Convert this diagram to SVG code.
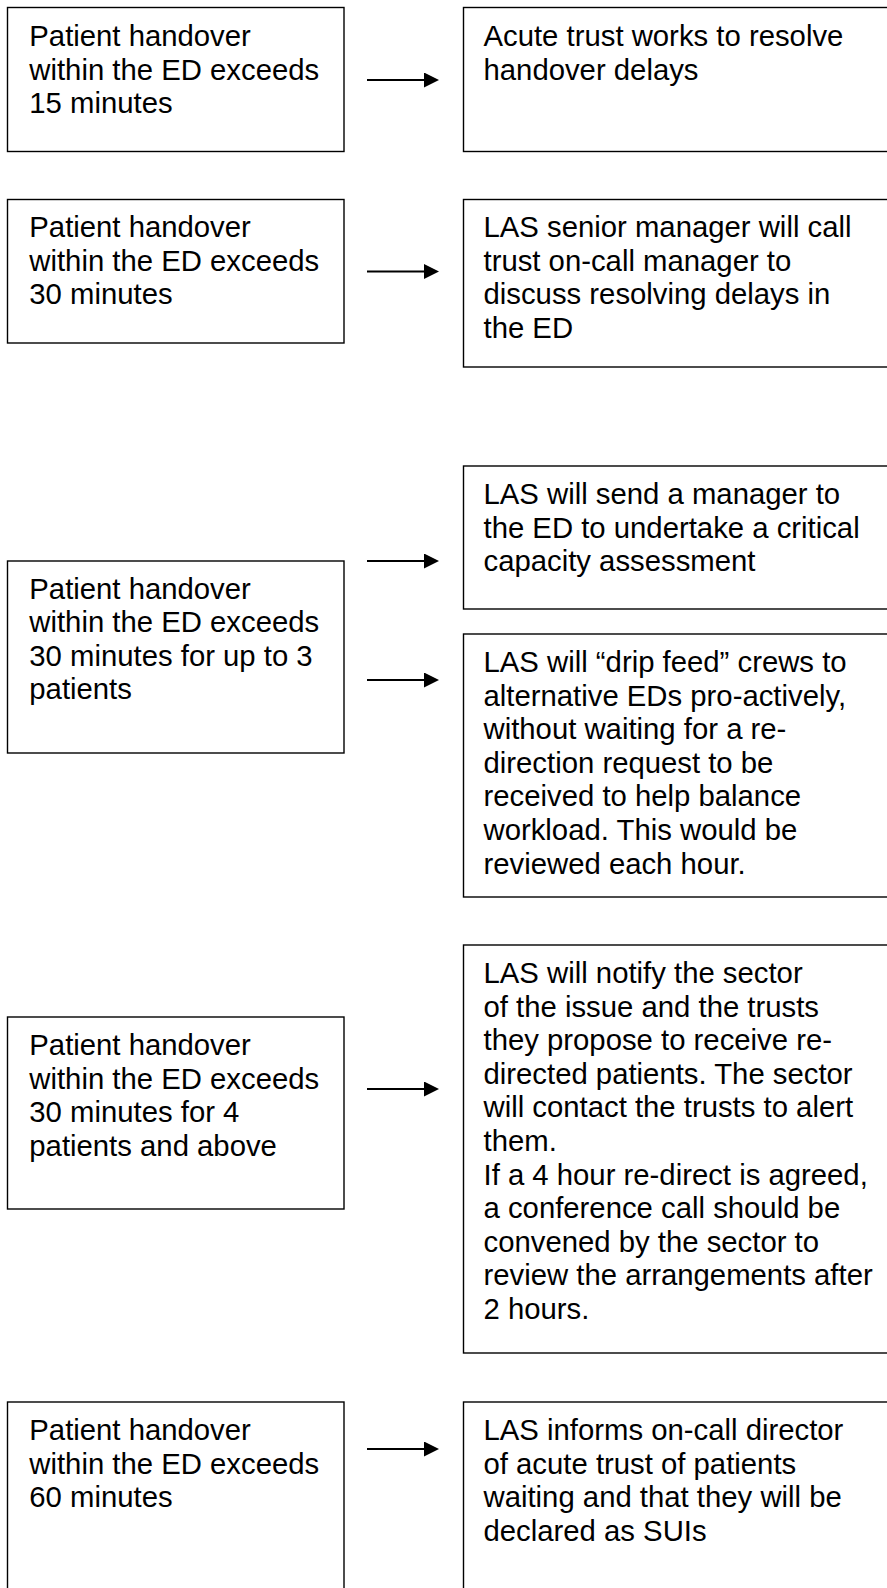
<svg xmlns="http://www.w3.org/2000/svg" width="887" height="1588" viewBox="0 0 887 1588">
<style>
.box{fill:#fff;stroke:#000;stroke-width:1.4}
.t{font-family:"Liberation Sans",Arial,sans-serif;font-size:29.3px;fill:#000}
.arr{stroke:#000;stroke-width:2;fill:none}
</style>
<defs>
<marker id="ah" markerUnits="userSpaceOnUse" markerWidth="16" markerHeight="16" refX="0" refY="7.5" orient="auto">
<path d="M0,0 L15,7.5 L0,15 z" fill="#000"/>
</marker>
</defs>
<rect width="887" height="1588" fill="#fff"/>
<g id="a1"><rect class="box" x="7.5" y="7.5" width="336.5" height="144"/>
<text class="t" x="29.3"><tspan x="29.3" y="46">Patient handover</tspan><tspan x="29.3" y="79.6">within the ED exceeds</tspan><tspan x="29.3" y="113.2">15 minutes</tspan></text></g>
<g id="b1"><rect class="box" x="463.5" y="7.5" width="440" height="144"/>
<text class="t"><tspan x="483.5" y="46">Acute trust works to resolve</tspan><tspan x="483.5" y="79.6">handover delays</tspan></text></g>
<g id="a2"><rect class="box" x="7.5" y="199.5" width="336.5" height="143.5"/>
<text class="t"><tspan x="29.3" y="237">Patient handover</tspan><tspan x="29.3" y="270.6">within the ED exceeds</tspan><tspan x="29.3" y="304.2">30 minutes</tspan></text></g>
<g id="b2"><rect class="box" x="463.5" y="199.5" width="440" height="167.5"/>
<text class="t"><tspan x="483.5" y="237">LAS senior manager will call</tspan><tspan x="483.5" y="270.6">trust on-call manager to</tspan><tspan x="483.5" y="304.2">discuss resolving delays in</tspan><tspan x="483.5" y="337.8">the ED</tspan></text></g>
<g id="b3"><rect class="box" x="463.5" y="466" width="440" height="143"/>
<text class="t"><tspan x="483.5" y="504">LAS will send a manager to</tspan><tspan x="483.5" y="537.6">the ED to undertake a critical</tspan><tspan x="483.5" y="571.2">capacity assessment</tspan></text></g>
<g id="a3"><rect class="box" x="7.5" y="561" width="336.5" height="192"/>
<text class="t"><tspan x="29.3" y="598.5">Patient handover</tspan><tspan x="29.3" y="632.1">within the ED exceeds</tspan><tspan x="29.3" y="665.7">30 minutes for up to 3</tspan><tspan x="29.3" y="699.3">patients</tspan></text></g>
<g id="b4"><rect class="box" x="463.5" y="634" width="440" height="263"/>
<text class="t"><tspan x="483.5" y="672">LAS will “drip feed” crews to</tspan><tspan x="483.5" y="705.6">alternative EDs pro-actively,</tspan><tspan x="483.5" y="739.2">without waiting for a re-</tspan><tspan x="483.5" y="772.8">direction request to be</tspan><tspan x="483.5" y="806.4">received to help balance</tspan><tspan x="483.5" y="840">workload. This would be</tspan><tspan x="483.5" y="873.6">reviewed each hour.</tspan></text></g>
<g id="b5"><rect class="box" x="463.5" y="945" width="440" height="408"/>
<text class="t"><tspan x="483.5" y="983">LAS will notify the sector</tspan><tspan x="483.5" y="1016.6">of the issue and the trusts</tspan><tspan x="483.5" y="1050.2">they propose to receive re-</tspan><tspan x="483.5" y="1083.8">directed patients. The sector</tspan><tspan x="483.5" y="1117.4">will contact the trusts to alert</tspan><tspan x="483.5" y="1151">them.</tspan><tspan x="483.5" y="1184.6">If a 4 hour re-direct is agreed,</tspan><tspan x="483.5" y="1218.2">a conference call should be</tspan><tspan x="483.5" y="1251.8">convened by the sector to</tspan><tspan x="483.5" y="1285.4">review the arrangements after</tspan><tspan x="483.5" y="1319">2 hours.</tspan></text></g>
<g id="a4"><rect class="box" x="7.5" y="1017" width="336.5" height="192"/>
<text class="t"><tspan x="29.3" y="1055">Patient handover</tspan><tspan x="29.3" y="1088.6">within the ED exceeds</tspan><tspan x="29.3" y="1122.2">30 minutes for 4</tspan><tspan x="29.3" y="1155.8">patients and above</tspan></text></g>
<g id="a5"><rect class="box" x="7.5" y="1402" width="336.5" height="220"/>
<text class="t"><tspan x="29.3" y="1440">Patient handover</tspan><tspan x="29.3" y="1473.6">within the ED exceeds</tspan><tspan x="29.3" y="1507.2">60 minutes</tspan></text></g>
<g id="b6"><rect class="box" x="463.5" y="1402" width="440" height="220"/>
<text class="t"><tspan x="483.5" y="1440">LAS informs on-call director</tspan><tspan x="483.5" y="1473.6">of acute trust of patients</tspan><tspan x="483.5" y="1507.2">waiting and that they will be</tspan><tspan x="483.5" y="1540.8">declared as SUIs</tspan></text></g>
<g id="connectors">
<line class="arr" x1="367" y1="80" x2="424" y2="80" marker-end="url(#ah)"/>
<line class="arr" x1="367" y1="271.5" x2="424" y2="271.5" marker-end="url(#ah)"/>
<line class="arr" x1="367" y1="561" x2="424" y2="561" marker-end="url(#ah)"/>
<line class="arr" x1="367" y1="680" x2="424" y2="680" marker-end="url(#ah)"/>
<line class="arr" x1="367" y1="1089" x2="424" y2="1089" marker-end="url(#ah)"/>
<line class="arr" x1="367" y1="1449" x2="424" y2="1449" marker-end="url(#ah)"/>
</g>
</svg>
